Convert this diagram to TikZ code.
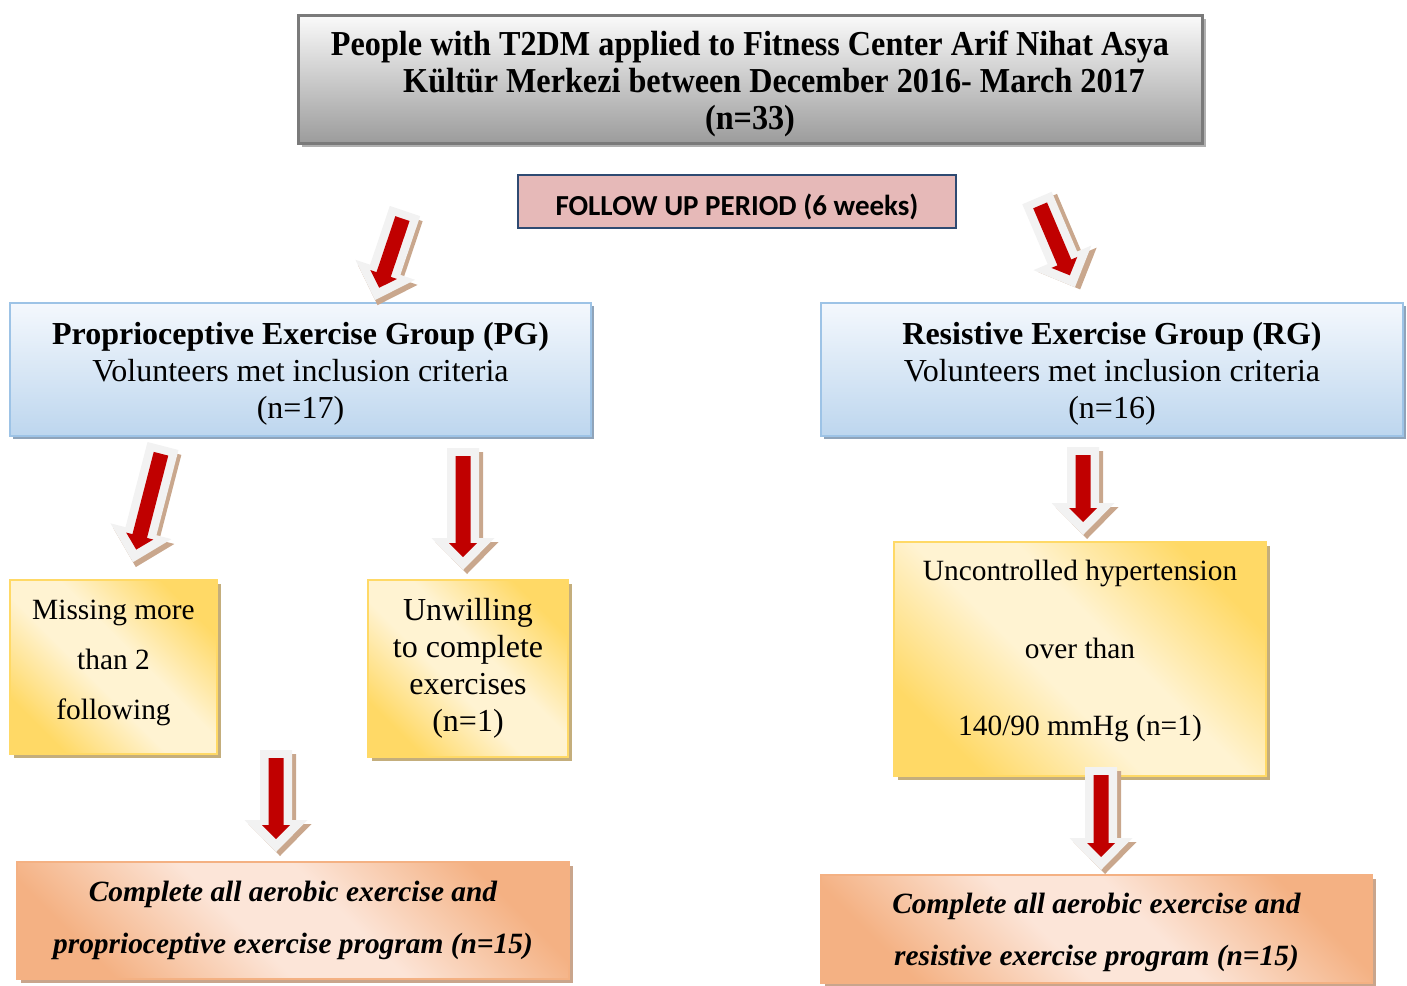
\documentclass[tikz,border=0pt]{standalone}
\usepackage{fontspec}
\setmainfont{Liberation Serif}
\newfontfamily\calibfont{Carlito}
\newfontfamily\narrowfont[FakeStretch=0.92]{Liberation Serif}
\usetikzlibrary{shadows,calc}

\definecolor{greytop}{HTML}{FAFAFA}
\definecolor{greybot}{HTML}{9C9C9C}
\definecolor{greyline}{HTML}{7A7A7A}
\definecolor{greyshadow}{HTML}{B0B0B0}
\definecolor{pinkfill}{HTML}{E6B9B8}
\definecolor{pinkline}{HTML}{2E4A72}
\definecolor{bluetop}{HTML}{F4F8FD}
\definecolor{bluebot}{HTML}{BDD6EE}
\definecolor{blueline}{HTML}{9DC3E6}
\definecolor{blueshadow}{HTML}{8FA4BA}
\definecolor{ydark}{HTML}{FFD966}
\definecolor{ylight}{HTML}{FFF3D2}
\definecolor{yshadow}{HTML}{C4AE7C}
\definecolor{odark}{HTML}{F4B183}
\definecolor{olight}{HTML}{FCE5D8}
\definecolor{oshadow}{HTML}{C9A58C}
\definecolor{arrowred}{HTML}{C00000}
\definecolor{arrowwhite}{HTML}{F2F2F2}
\definecolor{arrowshadow}{HTML}{C9A78D}

\pgfdeclarehorizontalshading{yellowband}{100bp}{color(0bp)=(ydark); color(25bp)=(ydark); color(44bp)=(ylight); color(56bp)=(ylight); color(75bp)=(ydark); color(100bp)=(ydark)}
\pgfdeclarehorizontalshading{orangeband}{100bp}{color(0bp)=(odark); color(25bp)=(odark); color(44bp)=(olight); color(56bp)=(olight); color(75bp)=(odark); color(100bp)=(odark)}

\newcommand{\lift}[1]{\rule{0pt}{#1}}

\tikzset{
  box/.style={inner sep=0pt, align=center},
  greybox/.style={box, draw=greyline, line width=1.5pt, top color=greytop, bottom color=greybot,
    drop shadow={shadow xshift=2pt, shadow yshift=-2pt, fill=greyshadow, opacity=1},
    font=\narrowfont\bfseries\fontsize{17.5}{18.5}\selectfont},
  pinkbox/.style={box, draw=pinkline, line width=1pt, fill=pinkfill,
    font=\calibfont\bfseries\fontsize{14.5}{16}\selectfont},
  bluebox/.style={box, draw=blueline, line width=1.2pt, top color=bluetop, bottom color=bluebot,
    drop shadow={shadow xshift=1.5pt, shadow yshift=-1.5pt, fill=blueshadow, opacity=1},
    font=\fontsize{16}{18.5}\selectfont},
  yellowbox/.style={box, draw=ydark, line width=1.2pt, shading=yellowband, shading angle=45,
    drop shadow={shadow xshift=2pt, shadow yshift=-2pt, fill=yshadow, opacity=1},
    font=\fontsize{14.7}{18.5}\selectfont},
  orangebox/.style={box, draw=odark, line width=1.2pt, shading=orangeband, shading angle=45,
    drop shadow={shadow xshift=2pt, shadow yshift=-2pt, fill=oshadow, opacity=1},
    font=\bfseries\itshape\fontsize{14.7}{26}\selectfont},
  pics/fatarrow/.style={code={
    \fill[arrowshadow, shift={(4,4)}] (-16,0) -- (16,0) -- (16,{#1-32}) -- (31.5,{#1-32}) -- (0,#1)
      -- (-31.5,{#1-32}) -- (-16,{#1-32}) -- cycle;
    \fill[arrowwhite] (-16,0) -- (16,0) -- (16,{#1-32}) -- (31.5,{#1-32}) -- (0,#1)
      -- (-31.5,{#1-32}) -- (-16,{#1-32}) -- cycle;
    \fill[arrowred] (-7.5,8) -- (7.5,8) -- (7.5,{#1-27}) -- (14,{#1-27}) -- (0,{#1-13})
      -- (-14,{#1-27}) -- (-7.5,{#1-27}) -- cycle;
  }}
}

\begin{document}
\begin{tikzpicture}[x=0.5pt, y=-0.5pt]
\useasboundingbox (0,0) rectangle (1407,985);

% boxes
\node[greybox, minimum width=452pt, minimum height=64pt] (top) at (750,79)
  {\lift{17pt}People with T2DM applied to Fitness Center Arif Nihat Asya\\
   \hspace*{24pt}Kültür Merkezi between December 2016- March 2017\\
   (n=33)};
\node[pinkbox, minimum width=219pt, minimum height=26.5pt] (follow) at (737,201.5)
  {\lift{16pt}FOLLOW UP PERIOD (6 weeks)};

\node[bluebox, minimum width=290.5pt, minimum height=66.5pt] (pg) at (300.5,369.5)
  {\lift{15pt}\textbf{Proprioceptive Exercise Group (PG)}\\ Volunteers met inclusion criteria\\ (n=17)};
\node[bluebox, minimum width=291pt, minimum height=66.5pt] (rg) at (1112,369.5)
  {\lift{15pt}\textbf{Resistive Exercise Group (RG)}\\ Volunteers met inclusion criteria\\ (n=16)};

\node[yellowbox, minimum width=103.5pt, minimum height=87pt,
  font=\fontsize{14.7}{25}\selectfont, text depth=7.2pt] (miss) at (113.5,667)
  {Missing more\\ than 2\\ following};
\node[yellowbox, minimum width=100pt, minimum height=88.5pt,
  font=\fontsize{16}{18.5}\selectfont] (unwill) at (468,668.5)
  {Unwilling\\ to complete\\ exercises\\ (n=1)};
\node[yellowbox, minimum width=186pt, minimum height=117pt,
  font=\fontsize{14.7}{38.75}\selectfont, text depth=11.2pt] (hyper) at (1080,659)
  {Uncontrolled hypertension\\ over than\\ 140/90 mmHg (n=1)};

\node[orangebox, minimum width=276pt, minimum height=58.5pt] (donepg) at (293,920.5)
  {Complete all aerobic exercise and\\ proprioceptive exercise program (n=15)};
\node[orangebox, minimum width=275.5pt, minimum height=54pt] (donerg) at (1096.5,929)
  {\lift{14pt}Complete all aerobic exercise and\\ resistive exercise program (n=15)};

% arrows
\coordinate (a1) at (405,211);
\coordinate (a2) at (1037,198);
\coordinate (a3) at (163,446);
\coordinate (a4) at (463,448);
\coordinate (a5) at (276,750);
\coordinate (a6) at (1083,447);
\coordinate (a7) at (1101,767);
\pic[rotate=-18.6] at (a1) {fatarrow=94};
\pic[rotate=23] at (a2) {fatarrow=97};
\pic[rotate=-14.5] at (a3) {fatarrow=120};
\pic at (a4) {fatarrow=122};
\pic at (a5) {fatarrow=102};
\pic at (a6) {fatarrow=88};
\pic at (a7) {fatarrow=103};
\end{tikzpicture}
\end{document}
